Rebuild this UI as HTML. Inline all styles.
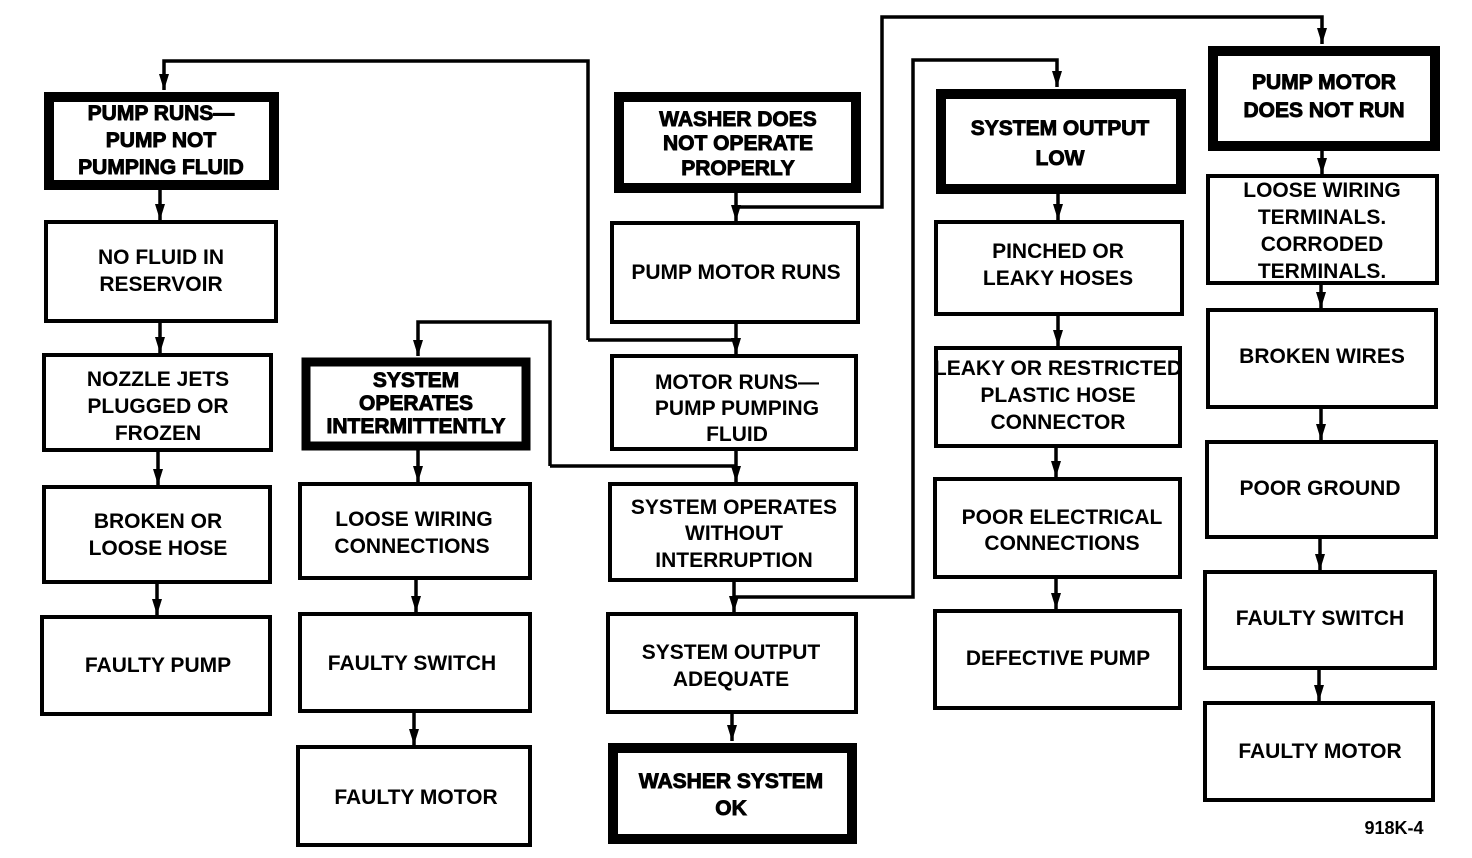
<!DOCTYPE html>
<html><head><meta charset="utf-8"><style>
html,body{margin:0;padding:0;background:#fff;}
svg{display:block;}
text{font-family:"Liberation Sans",sans-serif;font-weight:bold;font-size:21px;fill:#000;text-anchor:middle;}
.t{stroke:#000;stroke-width:0.9px;}
</style></head><body>
<svg width="1472" height="858" viewBox="0 0 1472 858" xmlns="http://www.w3.org/2000/svg">
<defs><marker id="a" markerWidth="16" markerHeight="10" refX="16" refY="5" orient="auto" markerUnits="userSpaceOnUse" viewBox="0 0 16 10"><path d="M0,0 L16,5 L0,10 Z" fill="#000"/></marker></defs>
<g fill="none" stroke="#000" stroke-width="4">
<rect x="49" y="97" width="225" height="88" stroke-width="10"/>
<rect x="306" y="362" width="220" height="84" stroke-width="9"/>
<rect x="619" y="97" width="237" height="91" stroke-width="10"/>
<rect x="613" y="748" width="239" height="91" stroke-width="10"/>
<rect x="941" y="94" width="240" height="95" stroke-width="10"/>
<rect x="1213" y="51" width="222" height="95" stroke-width="10"/>
<rect x="46" y="222" width="230" height="99"/>
<rect x="44" y="355" width="227" height="95"/>
<rect x="44" y="487" width="226" height="95"/>
<rect x="42" y="617" width="228" height="97"/>
<rect x="300" y="484" width="230" height="94"/>
<rect x="300" y="614" width="230" height="97"/>
<rect x="298" y="747" width="232" height="98"/>
<rect x="612" y="223" width="246" height="99"/>
<rect x="612" y="356" width="244" height="93"/>
<rect x="610" y="484" width="246" height="96"/>
<rect x="608" y="614" width="248" height="98"/>
<rect x="936" y="222" width="246" height="92"/>
<rect x="936" y="348" width="244" height="98"/>
<rect x="935" y="479" width="245" height="98"/>
<rect x="935" y="611" width="245" height="97"/>
<rect x="1208" y="176" width="229" height="107"/>
<rect x="1208" y="310" width="228" height="97"/>
<rect x="1207" y="442" width="229" height="95"/>
<rect x="1205" y="572" width="230" height="96"/>
<rect x="1205" y="703" width="228" height="97"/>
</g>
<g fill="none" stroke="#000" stroke-width="3.5" marker-end="url(#a)">
<path d="M160,190 V220"/><path d="M160,321 V353"/><path d="M158,450 V485"/><path d="M157,582 V615"/>
<path d="M418,450 V482"/><path d="M416,578 V612"/><path d="M414,711 V745"/>
<path d="M736,192 V221"/><path d="M736,322 V354"/><path d="M736,449 V482"/><path d="M734,580 V612"/><path d="M732,712 V741"/>
<path d="M1058,193 V220"/><path d="M1058,314 V346"/><path d="M1056,446 V477"/><path d="M1056,577 V609"/>
<path d="M1322,150 V174"/><path d="M1321,283 V308"/><path d="M1321,407 V440"/><path d="M1320,537 V570"/><path d="M1319,668 V701"/>
<path d="M588,340 V61 H164 V90"/>
<path d="M550,466 V322 H418 V356"/>
<path d="M736,207 H882 V17 H1322 V44"/>
<path d="M734,597 H913 V60 H1057 V87"/>
</g>
<g fill="none" stroke="#000" stroke-width="3.5">
<path d="M588,340 H736"/><path d="M550,466 H736"/>
</g>
<g>
<text class="t" x="161" y="120">PUMP RUNS—</text><text class="t" x="161" y="147">PUMP NOT</text><text class="t" x="161" y="174">PUMPING FLUID</text>
<text x="161" y="264">NO FLUID IN</text><text x="161" y="291">RESERVOIR</text>
<text x="158" y="386">NOZZLE JETS</text><text x="158" y="413">PLUGGED OR</text><text x="158" y="440">FROZEN</text>
<text x="158" y="528">BROKEN OR</text><text x="158" y="555">LOOSE HOSE</text>
<text x="158" y="672">FAULTY PUMP</text>
<text class="t" x="416" y="387">SYSTEM</text><text class="t" x="416" y="410">OPERATES</text><text class="t" x="416" y="433">INTERMITTENTLY</text>
<text x="414" y="526">LOOSE WIRING</text><text x="412" y="553">CONNECTIONS</text>
<text x="412" y="670">FAULTY SWITCH</text>
<text x="416" y="804">FAULTY MOTOR</text>
<text class="t" x="738" y="126">WASHER DOES</text><text class="t" x="738" y="150">NOT OPERATE</text><text class="t" x="738" y="175">PROPERLY</text>
<text x="736" y="279">PUMP MOTOR RUNS</text>
<text x="737" y="389">MOTOR RUNS—</text><text x="737" y="415">PUMP PUMPING</text><text x="737" y="441">FLUID</text>
<text x="734" y="514">SYSTEM OPERATES</text><text x="734" y="540">WITHOUT</text><text x="734" y="567">INTERRUPTION</text>
<text x="731" y="659">SYSTEM OUTPUT</text><text x="731" y="686">ADEQUATE</text>
<text class="t" x="731" y="788">WASHER SYSTEM</text><text class="t" x="731" y="815">OK</text>
<text class="t" x="1060" y="135">SYSTEM OUTPUT</text><text class="t" x="1060" y="165">LOW</text>
<text x="1058" y="258">PINCHED OR</text><text x="1058" y="285">LEAKY HOSES</text>
<text x="1058" y="375">LEAKY OR RESTRICTED</text><text x="1058" y="402">PLASTIC HOSE</text><text x="1058" y="429">CONNECTOR</text>
<text x="1062" y="524">POOR ELECTRICAL</text><text x="1062" y="550">CONNECTIONS</text>
<text x="1058" y="665">DEFECTIVE PUMP</text>
<text class="t" x="1324" y="89">PUMP MOTOR</text><text class="t" x="1324" y="117">DOES NOT RUN</text>
<text x="1322" y="197">LOOSE WIRING</text><text x="1322" y="224">TERMINALS.</text><text x="1322" y="251">CORRODED</text><text x="1322" y="278">TERMINALS.</text>
<text x="1322" y="363">BROKEN WIRES</text>
<text x="1320" y="495">POOR GROUND</text>
<text x="1320" y="625">FAULTY SWITCH</text>
<text x="1320" y="758">FAULTY MOTOR</text>
<text x="1394" y="834" style="font-size:18px">918K-4</text>
</g>
</svg>
</body></html>
